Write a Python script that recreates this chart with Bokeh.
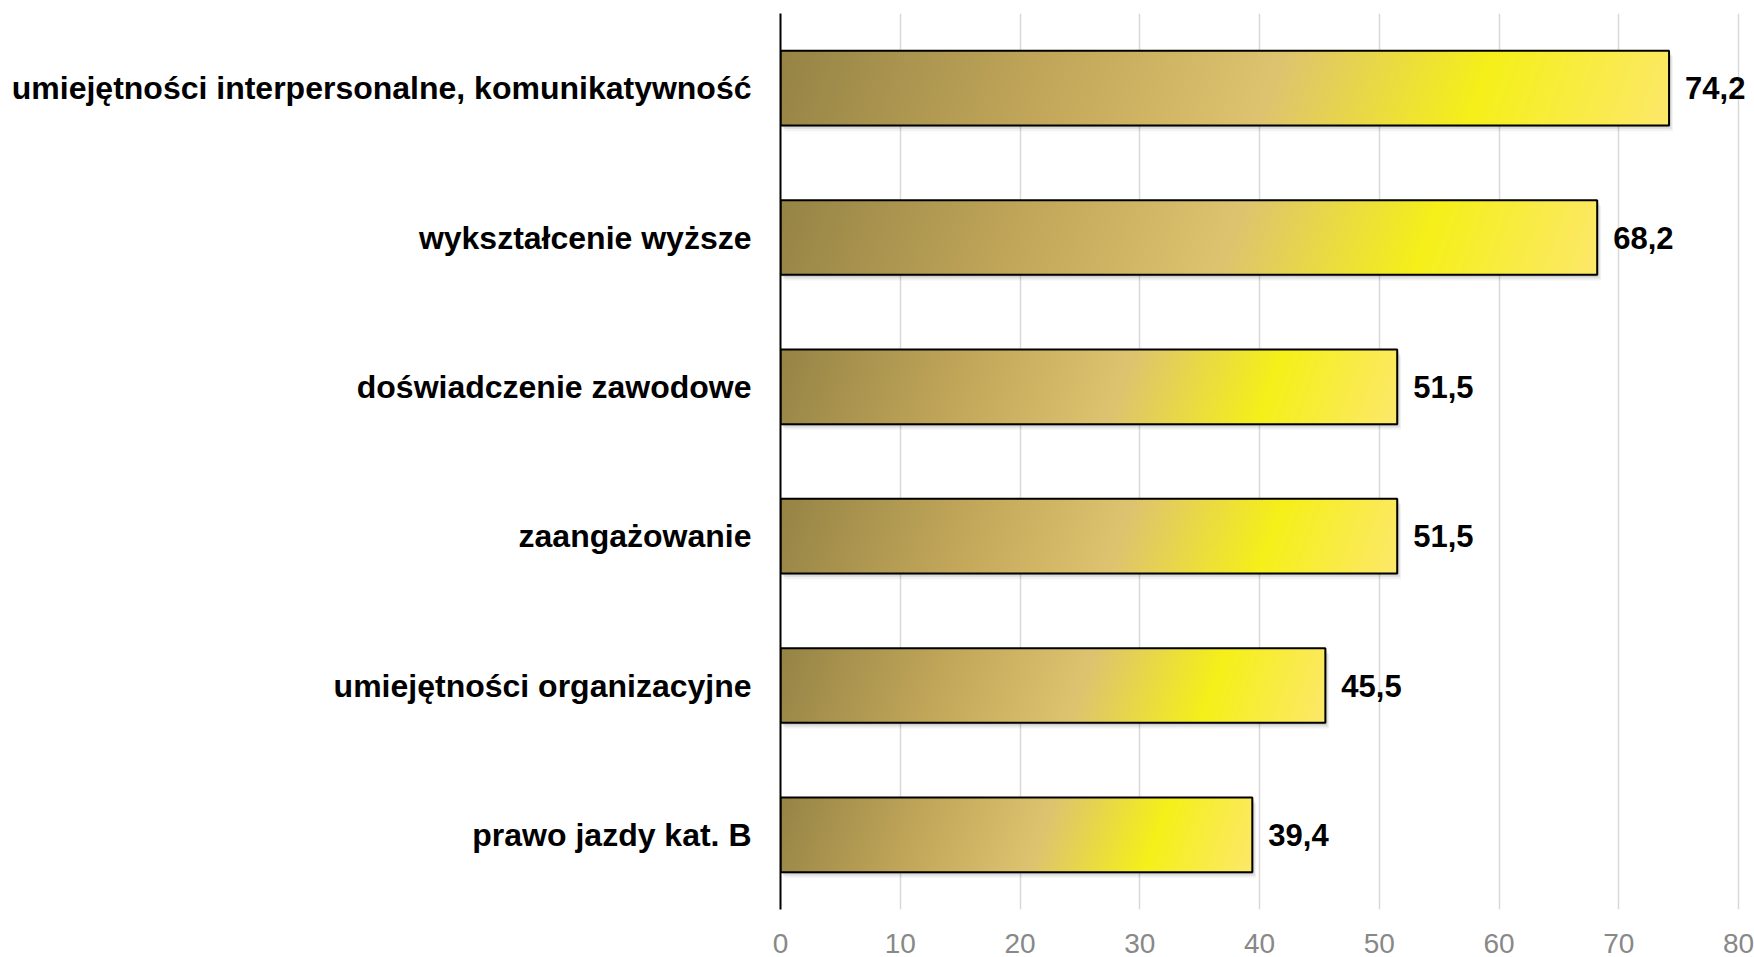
import numpy as np
from bokeh.plotting import figure
from bokeh.models import Range1d, FixedTicker, ColumnDataSource, LabelSet
from bokeh.core.properties import value
from bokeh.embed import file_html
from bokeh.resources import INLINE

# ---- data ----
categories = [
    "umiejętności interpersonalne, komunikatywność",
    "wykształcenie wyższe",
    "doświadczenie zawodowe",
    "zaangażowanie",
    "umiejętności organizacyjne",
    "prawo jazdy kat. B",
]
values = [74.2, 68.2, 51.5, 51.5, 45.5, 39.4]
value_labels = ["74,2", "68,2", "51,5", "51,5", "45,5", "39,4"]
x_ticks = [0, 10, 20, 30, 40, 50, 60, 70, 80]
x_tick_labels = ["0", "10", "20", "30", "40", "50", "60", "70", "80"]

n = len(categories)
ycent = [n - i - 0.5 for i in range(n)]
BAR_H = 0.5

FONT = "Liberation Sans"

# frame spans 780..1752 px; the 0..80 scale spans 780..1738 px
X_END = 80 * (1752 - 780) / (1738 - 780)

p = figure(width=1754, height=957,
           x_range=Range1d(0, X_END), y_range=Range1d(0, n),
           min_border_left=780, min_border_right=2,
           min_border_top=13, min_border_bottom=48,
           output_backend="svg", toolbar_location=None)
p.outline_line_color = None
p.background_fill_color = "white"
p.border_fill_color = "white"

# grid
p.ygrid.grid_line_color = None
p.xgrid.ticker = FixedTicker(ticks=x_ticks)
p.xgrid.grid_line_color = "#d9d9d9"
p.xgrid.grid_line_width = 1.5

# x axis
p.xaxis.ticker = FixedTicker(ticks=x_ticks)
p.xaxis.major_label_overrides = {t: l for t, l in zip(x_ticks, x_tick_labels)}
p.xaxis.axis_line_color = None
p.xaxis.major_tick_line_color = None
p.xaxis.minor_tick_line_color = None
p.xaxis.major_label_text_font = FONT
p.xaxis.major_label_text_font_size = "28px"
p.xaxis.major_label_text_color = "#888888"
p.xaxis.major_label_standoff = 18

# y axis
p.yaxis.ticker = FixedTicker(ticks=ycent)
p.yaxis.major_label_overrides = {y: c for y, c in zip(ycent, categories)}
p.yaxis.axis_line_color = "black"
p.yaxis.axis_line_width = 2
p.yaxis.major_tick_line_color = None
p.yaxis.minor_tick_line_color = None
p.yaxis.major_label_text_font = FONT
p.yaxis.major_label_text_font_size = "32px"
p.yaxis.major_label_text_font_style = "bold"
p.yaxis.major_label_text_color = "black"
p.yaxis.major_label_standoff = 23


def lerp_stops(t, stops):
    pos = np.array([s[0] for s in stops])
    cols = np.array([s[1] for s in stops], dtype=float)
    out = np.empty(t.shape + (3,))
    for c in range(3):
        out[..., c] = np.interp(t, pos, cols[:, c])
    return out


stops = [
    (0.00, (150, 132, 70)),
    (0.30, (194, 167, 90)),
    (0.55, (222, 195, 112)),
    (0.78, (246, 240, 26)),
    (1.00, (253, 232, 108)),
]


def gradient_image(v):
    W = max(2, int(round(v * 11.97)))
    H = 75
    xs = np.arange(W)[None, :] + 0.5
    ys = np.arange(H)[:, None] + 0.5  # from bottom
    k = 0.36
    t = (xs - k * ys + k * H) / (W + k * H)
    rgb = lerp_stops(t, stops)
    img = np.empty((H, W, 4), dtype=np.uint8)
    img[..., :3] = np.clip(rgb, 0, 255).astype(np.uint8)
    img[..., 3] = 255
    return img.view(dtype=np.uint32).reshape((H, W))


# shadows
for dx, dy, a in [(0.12, 0.012, 0.10), (0.22, 0.024, 0.07), (0.32, 0.038, 0.05)]:
    p.quad(left=[dx] * n, right=[v + dx for v in values],
           bottom=[y - BAR_H / 2 - dy for y in ycent],
           top=[y + BAR_H / 2 - dy for y in ycent],
           fill_color="black", fill_alpha=a, line_color=None)

# gradient bars
p.image_rgba(image=[gradient_image(v) for v in values],
             x=[0] * n, y=[y - BAR_H / 2 for y in ycent],
             dw=values, dh=[BAR_H] * n)

# bar borders
p.quad(left=[0] * n, right=values,
       bottom=[y - BAR_H / 2 for y in ycent],
       top=[y + BAR_H / 2 for y in ycent],
       fill_color=None, line_color="black", line_width=2)

# value labels
src = ColumnDataSource(dict(x=values, y=ycent, t=value_labels))
labels = LabelSet(x="x", y="y", text="t", source=src, x_offset=16,
                  text_baseline="middle", text_align="left",
                  text_font=value(FONT), text_font_size=value("31px"),
                  text_font_style=value("bold"), text_color=value("black"))
p.add_layout(labels)

open("out.html", "w").write(file_html(p, INLINE))
